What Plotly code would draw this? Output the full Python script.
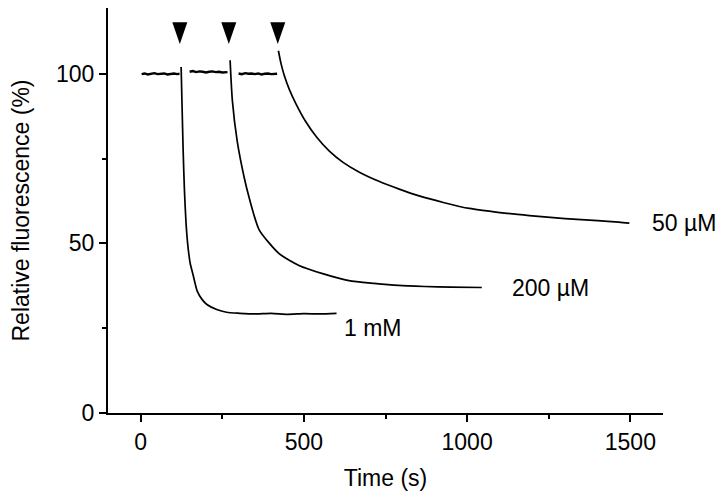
import plotly.graph_objects as go

# ---- data ----
inj_times = [120, 270, 420]           # arrowheads (s)

t_1mM_base = [3, 12, 22, 32, 42, 52, 62, 72, 82, 92, 102, 112, 119]
v_1mM_base = [99.9, 100.1, 99.8, 100.0, 100.2, 99.9, 100.0, 100.1, 99.8, 100.0, 100.1, 99.9, 100.0]
t_1mM = [124, 127, 130, 134, 139, 145, 152, 160, 173, 188, 203, 233, 263, 303, 350, 400, 450, 500, 550, 600]
v_1mM = [102, 90, 78, 66, 56, 49, 44, 41, 36, 33.5, 32, 30.5, 29.7, 29.4, 29.2, 29.4, 29.1, 29.3, 29.2, 29.4]

t_200_base = [150, 160, 170, 180, 190, 200, 210, 220, 230, 240, 250, 260, 266]
v_200_base = [100.6, 100.8, 100.5, 100.7, 100.6, 100.4, 100.6, 100.7, 100.5, 100.6, 100.4, 100.6, 100.5]
t_200 = [274, 281, 296, 317, 332, 363, 424, 485, 560, 638, 715, 790, 870, 950, 1045]
v_200 = [104, 92, 80, 69.5, 63.6, 54, 47, 43.5, 41, 39, 38.2, 37.6, 37.3, 37.1, 37.0]

t_50_base = [300, 310, 320, 330, 340, 350, 360, 370, 380, 390, 400, 410, 418]
v_50_base = [100.1, 99.9, 100.2, 100.0, 100.1, 99.9, 100.1, 99.8, 100.0, 100.1, 99.9, 100.0, 100.0]
t_50 = [422, 430, 440, 455, 475, 505, 540, 578, 620, 670, 730, 792, 853, 930, 1007, 1100, 1191, 1300, 1400, 1465, 1497]
v_50 = [106.8, 103, 99.5, 95.5, 91.3, 86, 81.2, 77.2, 73.9, 71.0, 68.3, 66, 64, 62, 60.3, 59.1, 58.2, 57.3, 56.7, 56.3, 56.0]

labels = ["1 mM", "200 µM", "50 µM"]
label_x = [617, 1131, 1560]
label_y = [25.0, 37, 56]

x_ticks = [0, 500, 1000, 1500]
y_ticks = [0, 50, 100]
x_range = [-100, 1600]
y_range = [0, 119.4]

FONT = "Liberation Sans, Arial, sans-serif"
FS = 23
FS_LABEL = 23

fig = go.Figure()
series = [
    (t_1mM_base, v_1mM_base, t_1mM, v_1mM),
    (t_200_base, v_200_base, t_200, v_200),
    (t_50_base, v_50_base, t_50, v_50),
]
for tb, vb, td, vd in series:
    fig.add_trace(go.Scatter(x=tb, y=vb, mode="lines",
                             line=dict(color="black", width=2.4),
                             showlegend=False, hoverinfo="skip"))
    fig.add_trace(go.Scatter(x=td, y=vd, mode="lines",
                             line=dict(color="black", width=1.7, shape="spline", smoothing=0.6),
                             showlegend=False, hoverinfo="skip"))

# arrowheads
for t in inj_times:
    fig.add_shape(type="path", xref="x", yref="y",
                  path=f"M {t-23},115.2 L {t+23},115.2 L {t},108.8 Z",
                  fillcolor="black", line=dict(color="black", width=0))

for txt, x, y in zip(labels, label_x, label_y):
    fig.add_annotation(x=(x - x_range[0]) / (x_range[1] - x_range[0]), y=y,
                       xref="paper", yref="y", text=txt, showarrow=False,
                       xanchor="left", yanchor="middle",
                       font=dict(family=FONT, size=FS_LABEL, color="black"))

# page body adds an 8px offset; margins compensate for it
fig.update_layout(
    width=724, height=497,
    margin=dict(l=100, r=69, t=0, b=92),
    paper_bgcolor="white", plot_bgcolor="white",
    font=dict(family=FONT, size=FS, color="black"),
    showlegend=False,
)
fig.update_xaxes(range=x_range, tickvals=x_ticks, ticks="outside", ticklen=7, tickwidth=2,
                 tickcolor="black", showline=True, linewidth=2, linecolor="black",
                 showgrid=False, zeroline=False, automargin=False,
                 tickfont=dict(size=FS),
                 minor=dict(tickvals=[250, 750, 1250], ticks="outside", ticklen=4, tickwidth=2, tickcolor="black"),
                 title=dict(text="Time (s)", standoff=16, font=dict(size=FS)))
fig.update_yaxes(range=y_range, tickvals=y_ticks, ticks="outside", ticklen=7, tickwidth=2,
                 tickcolor="black", showline=True, linewidth=2, linecolor="black",
                 showgrid=False, zeroline=False, automargin=False,
                 tickfont=dict(size=FS),
                 minor=dict(tickvals=[25, 75], ticks="outside", ticklen=4, tickwidth=2, tickcolor="black"),
                 title=dict(text="Relative fluorescence (%)", standoff=26, font=dict(size=FS)))

fig.write_html("out.html")
